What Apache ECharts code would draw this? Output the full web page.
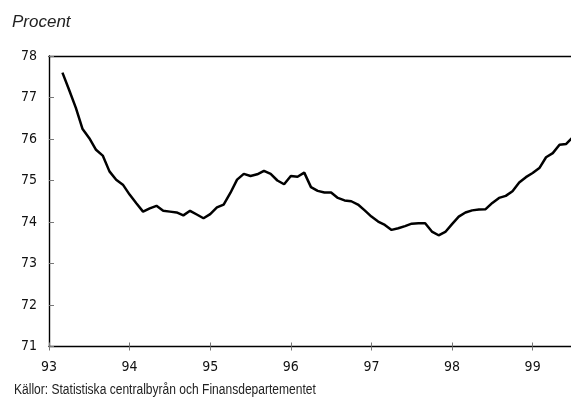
<!DOCTYPE html>
<html>
<head>
<meta charset="utf-8">
<script src="https://cdn.jsdelivr.net/npm/echarts@6/dist/echarts.min.js"></script>
<style>
html,body{margin:0;padding:0;background:#fff;}
#c{width:571px;height:405px;}
</style>
</head>
<body>
<div id="c"></div>
<script>
// Monthly series, first observation March 1993 (month index 2 counted from Jan 1993)
var startYear = 93;
var startMonth = 2;
var values = [
  77.6, 77.18, 76.75, 76.24, 76.02, 75.74, 75.6, 75.22, 75.02, 74.9,
  74.66, 74.45, 74.25, 74.33, 74.39, 74.27, 74.25, 74.23, 74.16, 74.27, 74.18, 74.09,
  74.19, 74.35, 74.42, 74.7, 75.02, 75.16, 75.11, 75.15, 75.23, 75.16, 75.0, 74.91,
  75.11, 75.09, 75.19, 74.84, 74.75, 74.71, 74.71, 74.58, 74.52, 74.5, 74.42, 74.28,
  74.13, 74.01, 73.93, 73.81, 73.85, 73.9, 73.96, 73.97, 73.97, 73.77, 73.68, 73.76,
  73.95, 74.13, 74.23, 74.28, 74.3, 74.31, 74.46, 74.58, 74.63, 74.74, 74.95, 75.08,
  75.18, 75.3, 75.56, 75.66, 75.86, 75.88, 76.05
];
var xTickLabels = ['93','94','95','96','97','98','99'];
var yTickLabels = ['71','72','73','74','75','76','77','78'];
var yAxisTitle = 'Procent';
var sourceText = 'Källor: Statistiska centralbyrån och Finansdepartementet';

var data = values.map(function (v, i) {
  return [startYear + (startMonth + i) / 12, v];
});

var chart = echarts.init(document.getElementById('c'));
var narrow = '"Liberation Sans Narrow", "DejaVu Sans Condensed", sans-serif';
var xMax = 99.476;
chart.setOption({
  animation: false,
  backgroundColor: '#fff',
  grid: { left: 49, top: 56, right: 0, bottom: 58.5 },
  title: [
    { text: yAxisTitle, left: 12, top: 14, padding: 0,
      textStyle: { fontFamily: '"Liberation Sans", Arial, sans-serif', fontStyle: 'italic', fontWeight: 'normal', fontSize: 17, color: '#222' } }
  ],
  graphic: [
    { type: 'text', left: 14, top: 383, scaleX: 0.86, scaleY: 1,
      style: { text: sourceText, font: '14px "Liberation Sans", Arial, sans-serif', fill: '#222' } }
  ],
  xAxis: [
    { type: 'value', min: 93, max: xMax, interval: 1, position: 'bottom',
      axisLine: { show: true, onZero: false, lineStyle: { color: '#000', width: 1.4 } },
      axisTick: { show: true, inside: false, length: 4, lineStyle: { color: '#777', width: 1 } },
      axisLabel: { margin: 14, fontFamily: narrow, fontSize: 14, color: '#111', showMaxLabel: false,
        formatter: function (v) { var i = Math.round(v - 93); return xTickLabels[i] || ''; } },
      splitLine: { show: false } },
    { type: 'value', min: 93, max: xMax, interval: 1, position: 'bottom',
      axisLine: { show: false, onZero: false },
      axisTick: { show: true, inside: true, length: 4, lineStyle: { color: '#777', width: 1 } },
      axisLabel: { show: false }, splitLine: { show: false } },
    { type: 'value', min: 93, max: xMax, position: 'top',
      axisLine: { show: true, onZero: false, lineStyle: { color: '#000', width: 1.4 } },
      axisTick: { show: false }, axisLabel: { show: false }, splitLine: { show: false } }
  ],
  yAxis: [
    { type: 'value', min: 71, max: 78, interval: 1,
      axisLine: { show: true, onZero: false, lineStyle: { color: '#000', width: 1.4 } },
      axisTick: { show: true, inside: true, length: 5, lineStyle: { color: '#777', width: 1 } },
      axisLabel: { margin: 12, fontFamily: narrow, fontSize: 14, color: '#111',
        formatter: function (v) { var i = Math.round(v - 71); return yTickLabels[i] || ''; } },
      splitLine: { show: false } }
  ],
  series: [
    { type: 'line', xAxisIndex: 0, yAxisIndex: 0, data: data, showSymbol: false, symbol: 'none',
      lineStyle: { color: '#000', width: 2.5 }, smooth: false, clip: true }
  ]
});
</script>
</body>
</html>
